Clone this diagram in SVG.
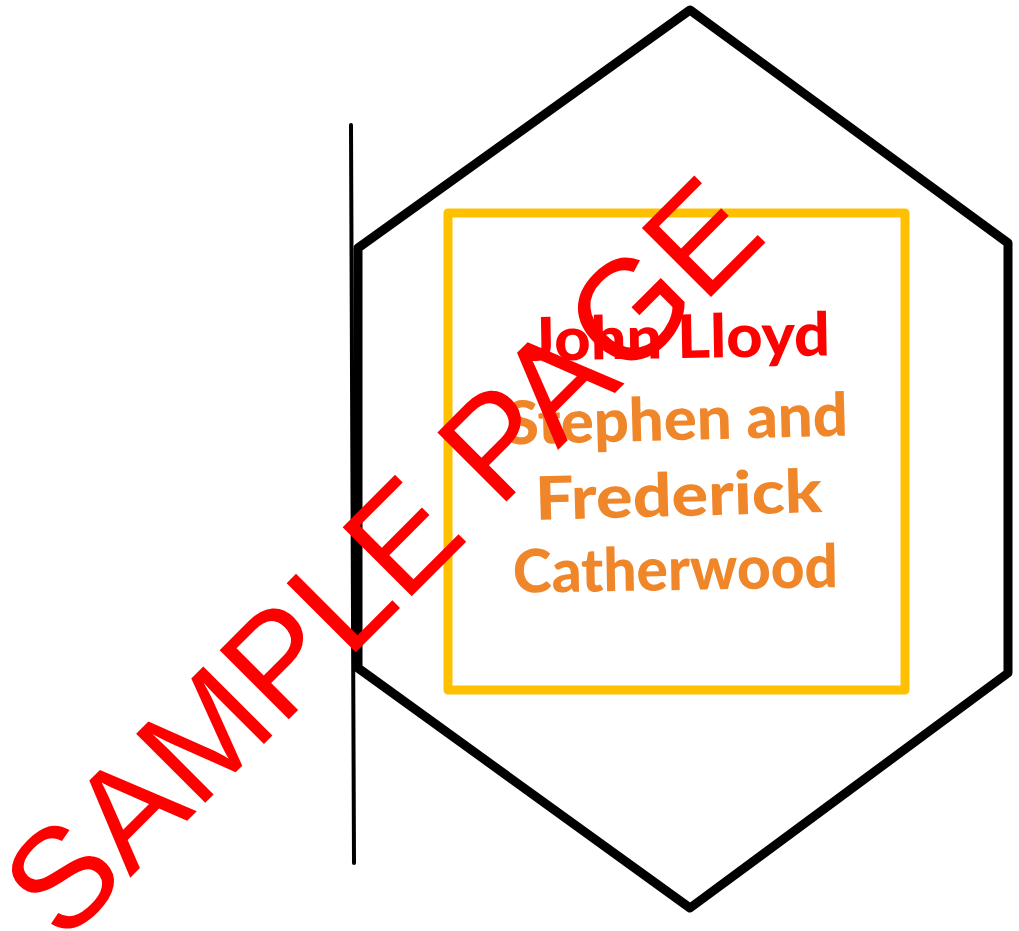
<svg xmlns="http://www.w3.org/2000/svg" width="1019" height="931" viewBox="0 0 1019 931">
<style>
.hex{fill:none;stroke:#000;stroke-width:9;stroke-linejoin:round}
.rule{fill:none;stroke:#000;stroke-width:4;stroke-linecap:round}
.box{fill:none;stroke:#FFC000;stroke-width:9;stroke-linejoin:round}
.name{font-family:Lato,"Open Sans","Liberation Sans",sans-serif;font-weight:900;font-size:60px}
.red{fill:#FF0000}
.orange{fill:#F0862A}
.wm{font-family:"Liberation Sans",Arial,sans-serif;font-size:142px;fill:#FF0000}
</style>
<rect width="1019" height="931" fill="#fff"/>
<g id="hexagon">
<polygon class="hex" points="690,10 1008,243 1008,673 690,908 358,668 358,248"/>
</g>
<g id="connectors">
<line class="rule" x1="351" y1="125" x2="354" y2="863"/>
</g>
<g id="frame">
<rect class="box" x="448" y="213" width="457" height="477"/>
</g>
<g id="names">
<text class="name red" x="528" y="358" textLength="302" lengthAdjust="spacingAndGlyphs" transform="rotate(-1 679 340)">John Lloyd</text>
<text class="name orange" x="505" y="440" textLength="343" lengthAdjust="spacingAndGlyphs" transform="rotate(-1.5 677 420)">Stephen and</text>
<text class="name orange" x="535" y="516" textLength="287" lengthAdjust="spacingAndGlyphs" transform="rotate(-1.6 678 495)">Frederick</text>
<text class="name orange" x="513" y="590" textLength="325" lengthAdjust="spacingAndGlyphs" transform="rotate(-1 676 570)">Catherwood</text>
</g>
<g id="watermark">
<text class="wm" x="63" y="945" transform="rotate(-45 63 945)">SAMPLE PAGE</text>
</g>
</svg>
